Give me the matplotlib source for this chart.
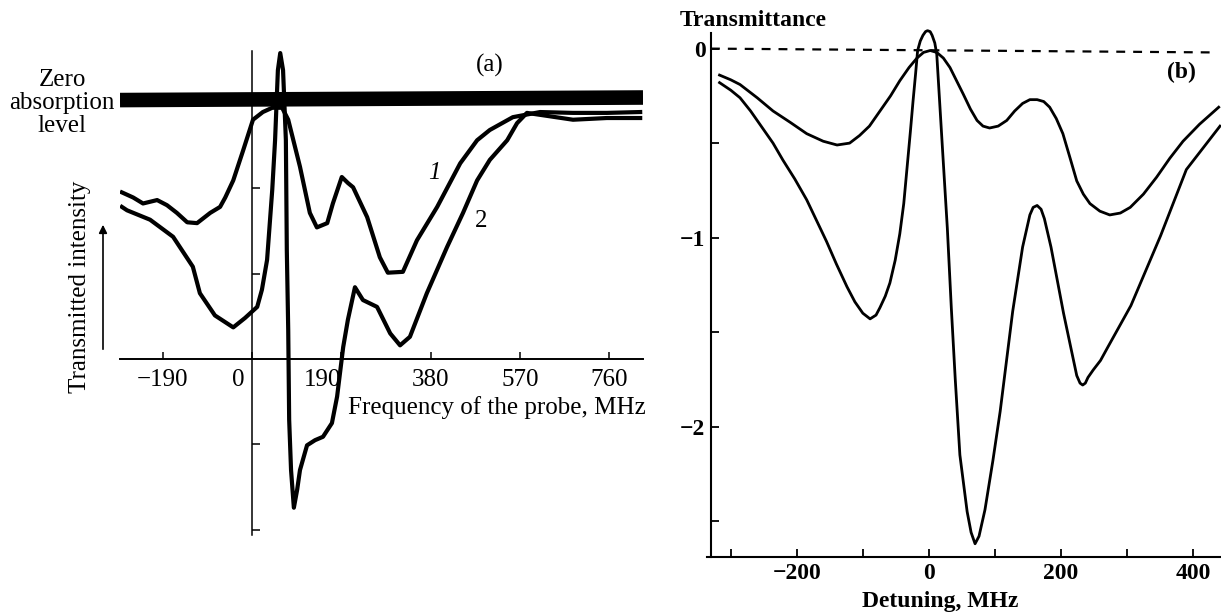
import matplotlib
matplotlib.use("Agg")
import matplotlib.pyplot as plt
from matplotlib.ticker import FixedLocator
from matplotlib.transforms import ScaledTranslation

# panel (a): measured traces, frequency of the probe (MHz) vs transmitted intensity (arb. units)
freq_1 = [-277, -253, -232, -202, -181, -160, -138, -117, -89, -68, -57, -40, -19, 2, 23, 43,
          64, 77, 102, 123, 138, 160, 172, 191, 204, 215, 245, 272, 289, 321, 351, 394, 443,
          479, 506, 555, 613, 683, 755, 826]
trace_1 = [1.95, 1.89, 1.82, 1.86, 1.80, 1.71, 1.60, 1.59, 1.71, 1.78, 1.89, 2.09, 2.44, 2.80,
           2.89, 2.94, 2.94, 2.80, 2.25, 1.71, 1.54, 1.59, 1.82, 2.13, 2.06, 2.01, 1.66, 1.19,
           1.01, 1.02, 1.39, 1.78, 2.29, 2.56, 2.68, 2.83, 2.89, 2.88, 2.88, 2.89]

freq_2 = [-277, -266, -217, -168, -126, -111, -79, -40, -15, 11, 21, 32, 43, 49, 55, 60, 66,
          72, 74, 77, 79, 83, 89, 96, 102, 117, 134, 151, 170, 181, 194, 204, 219, 236, 266,
          294, 315, 336, 372, 415, 449, 479, 506, 543, 564, 585, 683, 755, 826]
trace_2 = [1.78, 1.74, 1.63, 1.43, 1.08, 0.77, 0.51, 0.37, 0.48, 0.61, 0.81, 1.16, 1.98, 2.56,
           3.38, 3.58, 3.38, 2.56, 1.27, 0.34, -0.71, -1.30, -1.74, -1.53, -1.30, -1.01, -0.95,
           -0.91, -0.75, -0.44, 0.14, 0.46, 0.84, 0.69, 0.61, 0.30, 0.16, 0.26, 0.77, 1.31,
           1.71, 2.09, 2.33, 2.56, 2.76, 2.88, 2.80, 2.82, 2.82]

zero_level_x = [-281, 832]
zero_level_y = [3.03, 3.06]

a_xticks = [-190, 0, 190, 380, 570, 760]
a_xticklabels = ["\u2212190", "0", "190", "380", "570", "760"]
a_yticks = [-2, -1, 1, 2]

# panel (b): calculated transmittance vs detuning (MHz)
det_upper = [-317, -300, -286, -260, -236, -210, -185, -160, -139, -120, -105, -90, -74, -58,
             -44, -30, -18, -8, 2, 12, 22, 32, 42, 52, 63, 73, 82, 92, 105, 118, 130, 142, 153,
             164, 174, 183, 193, 203, 214, 224, 234, 244, 259, 274, 290, 305, 325, 345, 365,
             385, 410, 439]
tr_upper = [-0.14, -0.165, -0.19, -0.26, -0.33, -0.39, -0.45, -0.49, -0.51, -0.50, -0.46, -0.41,
            -0.33, -0.25, -0.17, -0.10, -0.05, -0.02, -0.01, -0.02, -0.05, -0.10, -0.17, -0.24,
            -0.32, -0.38, -0.41, -0.42, -0.41, -0.38, -0.33, -0.29, -0.27, -0.27, -0.28, -0.31,
            -0.37, -0.45, -0.58, -0.70, -0.77, -0.82, -0.86, -0.88, -0.87, -0.84, -0.77, -0.68,
            -0.58, -0.49, -0.40, -0.31]

det_lower = [-317, -300, -286, -270, -252, -236, -221, -203, -185, -170, -155, -140, -124, -112,
             -100, -89, -80, -74, -66, -59, -51, -44, -38, -33, -28, -24, -20, -17, -13, -9, -5,
             -2, 2, 5, 9, 12, 21, 28, 34, 40, 47, 58, 64, 70, 76, 85, 97, 108, 127, 142, 153,
             158, 164, 170, 175, 185, 204, 224, 229, 233, 237, 241, 249, 260, 271, 306, 351,
             390, 441]
tr_lower = [-0.18, -0.22, -0.26, -0.33, -0.42, -0.50, -0.59, -0.69, -0.80, -0.91, -1.02, -1.14,
            -1.26, -1.34, -1.40, -1.43, -1.41, -1.37, -1.31, -1.24, -1.12, -0.98, -0.82, -0.63,
            -0.44, -0.28, -0.13, -0.01, 0.04, 0.07, 0.09, 0.095, 0.09, 0.07, 0.03, -0.03, -0.55,
            -0.95, -1.37, -1.75, -2.15, -2.45, -2.56, -2.62, -2.58, -2.44, -2.18, -1.92, -1.39,
            -1.05, -0.88, -0.84, -0.83, -0.85, -0.90, -1.05, -1.40, -1.73, -1.77, -1.78, -1.77,
            -1.74, -1.70, -1.65, -1.58, -1.36, -0.99, -0.64, -0.41]

b_xmajor = [-200, 0, 200, 400]
b_xminor = [-300, -100, 100, 300]
b_ymajor = [0, -1, -2]
b_yminor = [-0.5, -1.5, -2.5]

W, H = 1221, 616
SERIF = ["Liberation Serif", "DejaVu Serif"]
plt.rcParams["font.family"] = SERIF

fig = plt.figure(figsize=(W / 100, H / 100), dpi=100)

# ---------- panel (a) ----------
axa = fig.add_axes([120 / W, (H - 600) / H, 523 / W, 570 / H])
axa.set_xlim(-281, 832)
axa.set_ylim(-2.82, 3.85)
for s in ["top", "right"]:
    axa.spines[s].set_visible(False)
axa.spines["bottom"].set_position(("data", 0))
axa.spines["bottom"].set_linewidth(1.4)
axa.spines["left"].set_position(("data", 0))
axa.spines["left"].set_bounds(-2.06, 3.61)
axa.spines["left"].set_linewidth(1.1)

axa.set_xticks(a_xticks)
axa.set_xticklabels(a_xticklabels)
axa.set_yticks(a_yticks)
axa.set_yticklabels([])
axa.tick_params(axis="x", direction="in", length=5, width=1.1, pad=7, labelsize=18)
axa.tick_params(axis="y", direction="in", length=6, width=1.1)

# the 0 and 190 labels sit left of their ticks in the original
for lab, dx in zip(axa.get_xticklabels()[1:3], [-14, -19]):
    lab.set_transform(lab.get_transform() + ScaledTranslation(dx / 100, 0, fig.dpi_scale_trans))

axa.plot(zero_level_x, zero_level_y, color="black", lw=10.5, solid_capstyle="butt")
axa.plot(freq_1, trace_1, color="black", lw=3, solid_joinstyle="round")
axa.plot(freq_2, trace_2, color="black", lw=3, solid_joinstyle="round")

axa.text(389, 2.18, "1", fontsize=18, style="italic", ha="center", va="center")
axa.text(487, 1.62, "2", fontsize=18, ha="center", va="center")
axa.text(506, 3.44, "(a)", fontsize=18, ha="center", va="center")

fig.text(62 / W, 1 - 103 / H, "Zero\nabsorption\nlevel", fontsize=18, ha="center",
         va="center", linespacing=1.08)
fig.text(80 / W, 1 - 287 / H, "Transmitted intensity", fontsize=18, rotation=90,
         ha="center", va="center")
fig.text(497 / W, 1 - 408 / H, "Frequency of the probe, MHz", fontsize=18,
         ha="center", va="center")
axa.annotate("", xy=(103 / W, 1 - 222 / H), xytext=(103 / W, 1 - 352 / H),
             xycoords="figure fraction", textcoords="figure fraction",
             arrowprops=dict(arrowstyle="-|>", color="black", lw=1.2, mutation_scale=12))

# ---------- panel (b) ----------
axb = fig.add_axes([707 / W, (H - 557) / H, 515 / W, 532 / H])
axb.set_xlim(-336, 444)
axb.set_ylim(-2.69, 0.125)
for s in ["top", "right"]:
    axb.spines[s].set_visible(False)
axb.spines["left"].set_position(("data", -330))
axb.spines["left"].set_bounds(-2.69, 0.085)
axb.spines["left"].set_linewidth(1.5)
axb.spines["bottom"].set_linewidth(1.5)

axb.xaxis.set_major_locator(FixedLocator(b_xmajor))
axb.xaxis.set_minor_locator(FixedLocator(b_xminor))
axb.yaxis.set_major_locator(FixedLocator(b_ymajor))
axb.yaxis.set_minor_locator(FixedLocator(b_yminor))
axb.set_xticklabels(["\u2212200", "0", "200", "400"])
axb.set_yticklabels(["0", "\u22121", "\u22122"])
axb.tick_params(axis="both", which="both", direction="in", length=6, width=1.3)
axb.tick_params(axis="x", which="major", pad=4, labelsize=17)
axb.tick_params(axis="y", which="major", pad=4, labelsize=17)
for lab in axb.get_xticklabels() + axb.get_yticklabels():
    lab.set_fontweight("bold")

axb.plot([-330, 426], [0, -0.02], color="black", lw=1.6, dashes=(4.0, 3.6))
axb.plot(det_upper, tr_upper, color="black", lw=2, solid_joinstyle="round")
axb.plot(det_lower, tr_lower, color="black", lw=2, solid_joinstyle="round")

axb.text(383, -0.127, "(b)", fontsize=17, fontweight="bold", ha="center", va="center")
fig.text(680 / W, 1 - 20 / H, "Transmittance", fontsize=17, fontweight="bold",
         ha="left", va="center")
fig.text(940 / W, 1 - 602 / H, "Detuning, MHz", fontsize=17, fontweight="bold",
         ha="center", va="center")

fig.savefig("out.png", dpi=100)
